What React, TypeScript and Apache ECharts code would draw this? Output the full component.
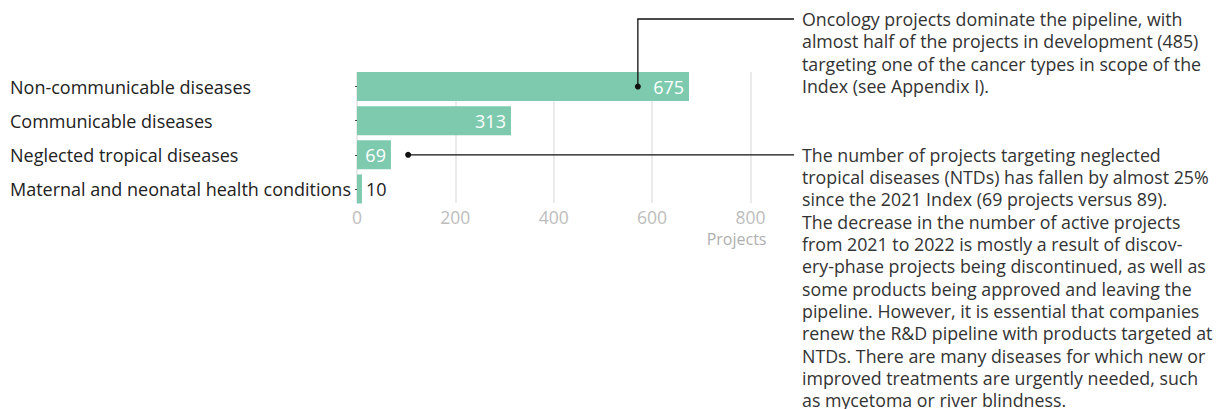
import React, { useEffect, useRef } from "react";
import * as echarts from "echarts";

const categories = [
  "Non-communicable diseases",
  "Communicable diseases",
  "Neglected tropical diseases",
  "Maternal and neonatal health conditions",
];
const values = [675, 313, 69, 10];
const xTicks = [0, 200, 400, 600, 800];
const axisTitle = "Projects";

const note1Lines = [
  "Oncology projects dominate the pipeline, with",
  "almost half of the projects in development (485)",
  "targeting one of the cancer types in scope of the",
  "Index (see Appendix I).",
];
const note2Lines = [
  "The number of projects targeting neglected",
  "tropical diseases (NTDs) has fallen by almost 25%",
  "since the 2021 Index (69 projects versus 89).",
  "The decrease in the number of active projects",
  "from 2021 to 2022 is mostly a result of discov-",
  "ery-phase projects being discontinued, as well as",
  "some products being approved and leaving the",
  "pipeline. However, it is essential that companies",
  "renew the R&D pipeline with products targeted at",
  "NTDs. There are many diseases for which new or",
  "improved treatments are urgently needed, such",
  "as mycetoma or river blindness.",
];
// anchor points of the callouts (value, category index)
const noteAnchorValues = [571, 104];
const noteAnchorRows = [0, 2];

const FONT = "'Open Sans'";
const BAR = "#7ecaae";

export default function App() {
  const ref = useRef<HTMLDivElement>(null);
  useEffect(() => {
    document.body.style.margin = "0";
    const chart = echarts.init(ref.current!, undefined, { renderer: "svg" });
    const xMin = xTicks[0];
    const xMax = xTicks[xTicks.length - 1];
    const interval = xTicks[1] - xTicks[0];
    const gl = 357;
    const gw = 393.5;
    chart.setOption({
      animation: false,
      textStyle: { fontFamily: FONT },
      grid: [
        { left: gl, width: gw, top: 69.5, height: 136.5 },
        { left: gl, width: gw, top: 72, height: 131 },
      ],
      xAxis: [
        {
          gridIndex: 0,
          type: "value",
          min: xMin,
          max: xMax,
          interval,
          show: false,
        },
        {
          gridIndex: 1,
          type: "value",
          min: xMin,
          max: xMax,
          interval,
          axisLine: { show: false },
          axisTick: { show: false },
          splitLine: { show: true, lineStyle: { color: "#e5e5e5", width: 1.5 } },
          axisLabel: {
            color: "#bdbdbd",
            fontSize: 17.5,
            fontFamily: FONT,
            margin: 5,
          },
        },
      ],
      yAxis: [
        {
          gridIndex: 0,
          type: "category",
          inverse: true,
          data: categories,
          axisLine: { show: false },
          axisTick: { show: true, alignWithLabel: true, length: 2, lineStyle: { color: "#444" } },
          axisLabel: {
            align: "left",
            margin: gl - 10,
            color: "#222",
            fontSize: 18,
            fontFamily: FONT,
          },
        },
        {
          gridIndex: 1,
          type: "category",
          data: categories,
          show: false,
        },
      ],
      series: [
        {
          type: "bar",
          xAxisIndex: 0,
          yAxisIndex: 0,
          barCategoryGap: "15%",
          itemStyle: { color: BAR },
          label: {
            show: true,
            position: "insideRight",
            distance: 5,
            color: "#fff",
            fontSize: 18,
            fontFamily: FONT,
          },
          data: values.map((v) =>
            v < 40
              ? { value: v, label: { position: "right", distance: 4, color: "#222" } }
              : { value: v }
          ),
        },
      ],
    });

    const p1 = chart.convertToPixel({ gridIndex: 0 }, [
      noteAnchorValues[0],
      categories[noteAnchorRows[0]],
    ]) as number[];
    const p2 = chart.convertToPixel({ gridIndex: 0 }, [
      noteAnchorValues[1],
      categories[noteAnchorRows[1]],
    ]) as number[];
    const textX = 802;
    const lineEnd = 794;
    const lh = 22.3;
    const topY = 19;
    chart.setOption({
      graphic: [
        {
          type: "polyline",
          shape: { points: [[p1[0], p1[1]], [p1[0], topY], [lineEnd, topY]] },
          style: { stroke: "#111", lineWidth: 1.3, fill: "none" },
          z: 10,
        },
        { type: "circle", shape: { cx: p1[0], cy: p1[1], r: 3 }, style: { fill: "#111" }, z: 10 },
        {
          type: "line",
          shape: { x1: p2[0], y1: p2[1], x2: lineEnd, y2: p2[1] },
          style: { stroke: "#111", lineWidth: 1.3 },
          z: 10,
        },
        { type: "circle", shape: { cx: p2[0], cy: p2[1], r: 3 }, style: { fill: "#111" }, z: 10 },
        {
          type: "text",
          x: textX,
          y: topY - lh / 2,
          style: {
            text: note1Lines.join("\n"),
            font: `17.8px ${FONT}`,
            fill: "#333",
            lineHeight: lh,
            verticalAlign: "top",
          },
        },
        {
          type: "text",
          x: textX,
          y: p2[1] - lh / 2,
          style: {
            text: note2Lines.join("\n"),
            font: `17.8px ${FONT}`,
            fill: "#333",
            lineHeight: lh,
            verticalAlign: "top",
          },
        },
        {
          type: "text",
          x: gl + gw + 16,
          y: 239,
          style: {
            text: axisTitle,
            font: `16px ${FONT}`,
            fill: "#b0b0b0",
            align: "right",
            verticalAlign: "middle",
          },
        },
      ],
    });
    return () => chart.dispose();
  }, []);
  return (
    <div
      ref={ref}
      style={{ position: "absolute", left: 0, top: 0, width: 1220, height: 409 }}
    />
  );
}
